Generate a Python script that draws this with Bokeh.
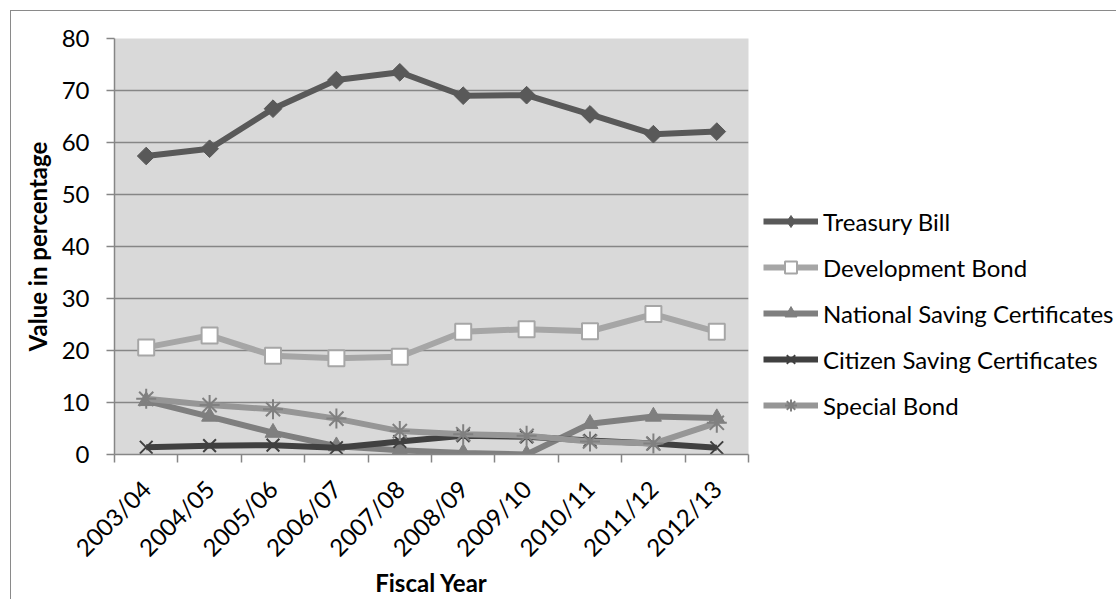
import math

from bokeh.plotting import figure
from bokeh.models import ColumnDataSource, FixedTicker, Legend, LegendItem, Range1d
from bokeh.embed import file_html
from bokeh.resources import INLINE

# Share of domestic debt instruments by fiscal year (percent)
years = ["2003/04", "2004/05", "2005/06", "2006/07", "2007/08",
         "2008/09", "2009/10", "2010/11", "2011/12", "2012/13"]
treasury_bill = [57.4, 58.8, 66.5, 72.0, 73.5, 69.0, 69.1, 65.4, 61.6, 62.1]
development_bond = [20.6, 22.9, 19.0, 18.5, 18.8, 23.6, 24.1, 23.7, 27.0, 23.6]
national_saving = [10.3, 7.3, 4.2, 1.6, 0.8, 0.3, 0.0, 5.9, 7.3, 7.0]
citizen_saving = [1.4, 1.7, 1.8, 1.3, 2.5, 3.6, 3.4, 2.7, 2.1, 1.3]
special_bond = [10.7, 9.5, 8.7, 6.9, 4.5, 3.9, 3.6, 2.5, 2.1, 6.1]
y_ticks = [0, 10, 20, 30, 40, 50, 60, 70, 80]

xpos = list(range(1, len(years) + 1))
src = ColumnDataSource(dict(
    x=xpos, tb=treasury_bill, db=development_bond, ns=national_saving,
    cs=citizen_saving, sb=special_bond,
))

FONT = "Lato"
GRID = "#868686"

p = figure(
    frame_width=634, frame_height=416,
    min_border_left=103, min_border_top=27, min_border_right=10, min_border_bottom=143,
    x_range=Range1d(0.5, len(years) + 0.5), y_range=Range1d(0, 80),
    output_backend="svg", toolbar_location=None,
    background_fill_color="#d9d9d9", border_fill_color="white",
    outline_line_color=None,
)
p.styles = {
    "margin-left": "10px", "margin-top": "10px",
    "border-left": "1px solid #8a8a8a", "border-top": "1px solid #8a8a8a",
}

# grid
p.xgrid.grid_line_color = None
p.ygrid.grid_line_color = GRID
p.ygrid.grid_line_width = 1.5
p.ygrid.ticker = FixedTicker(ticks=y_ticks)

# y axis
ya = p.yaxis[0]
ya.ticker = FixedTicker(ticks=y_ticks)
ya.axis_line_color = GRID
ya.axis_line_width = 1.5
ya.major_tick_line_color = GRID
ya.major_tick_line_width = 1.5
ya.major_tick_out = 8
ya.major_tick_in = 0
ya.minor_tick_line_color = None
ya.major_label_standoff = 17
ya.major_label_text_font = FONT
ya.major_label_text_font_size = "24px"
ya.major_label_text_color = "black"
ya.axis_label = "Value in percentage"
ya.axis_label_text_font = FONT
ya.axis_label_text_font_size = "24px"
ya.axis_label_text_font_style = "bold"
ya.axis_label_text_color = "black"
ya.axis_label_standoff = 7

# x axis: labels at category centres, tick marks at category boundaries
xa = p.xaxis[0]
xa.ticker = FixedTicker(ticks=xpos, minor_ticks=[i + 0.5 for i in range(len(years) + 1)])
xa.major_label_overrides = {x: y for x, y in zip(xpos, years)}
xa.major_label_orientation = math.pi / 4
xa.major_tick_line_color = None
xa.major_tick_out = 0
xa.major_tick_in = 0
xa.minor_tick_line_color = GRID
xa.minor_tick_line_width = 1.5
xa.minor_tick_out = 8
xa.minor_tick_in = 0
xa.axis_line_color = GRID
xa.axis_line_width = 1.5
xa.major_label_standoff = 22
xa.major_label_text_font = FONT
xa.major_label_text_font_size = "24px"
xa.major_label_text_color = "black"
xa.axis_label = "Fiscal Year"
xa.axis_label_text_font = FONT
xa.axis_label_text_font_size = "24px"
xa.axis_label_text_font_style = "bold"
xa.axis_label_text_color = "black"
xa.axis_label_standoff = -7

LW = 6

# Treasury Bill: diamonds (a small diamond glyph underneath serves as the legend swatch)
tb_l = p.line("x", "tb", source=src, line_color="#595959", line_width=LW)
tb_key = p.scatter("x", "tb", source=src, marker="diamond", size=10,
                   fill_color="#595959", line_color="#595959")
tb_m = p.scatter("x", "tb", source=src, marker="square", angle=math.pi / 4, size=12.5,
                 fill_color="#595959", line_color="#595959")

# Development Bond
db_l = p.line("x", "db", source=src, line_color="#a6a6a6", line_width=LW)
db_m = p.scatter("x", "db", source=src, marker="square", size=16,
                 fill_color="white", line_color="#a6a6a6", line_width=2)

# National Saving Certificates
ns_l = p.line("x", "ns", source=src, line_color="#7f7f7f", line_width=LW)
ns_m = p.scatter("x", "ns", source=src, marker="triangle", size=16,
                 fill_color="#7f7f7f", line_color="#7f7f7f")

# Citizen Saving Certificates
cs_l = p.line("x", "cs", source=src, line_color="#404040", line_width=LW)
cs_m = p.scatter("x", "cs", source=src, marker="x", size=18,
                 line_color="#404040", line_width=2)

# Special Bond
sb_l = p.line("x", "sb", source=src, line_color="#969696", line_width=LW)
sb_m = p.scatter("x", "sb", source=src, marker="asterisk", size=20,
                 line_color="#808080", line_width=2)

legend = Legend(
    items=[
        LegendItem(label="Treasury Bill", renderers=[tb_l, tb_key]),
        LegendItem(label="Development Bond", renderers=[db_l, db_m]),
        LegendItem(label="National Saving Certificates", renderers=[ns_l, ns_m]),
        LegendItem(label="Citizen Saving Certificates", renderers=[cs_l, cs_m]),
        LegendItem(label="Special Bond", renderers=[sb_l, sb_m]),
    ],
    location=(15, 34),
    orientation="vertical",
    glyph_width=55, glyph_height=30, label_height=30,
    spacing=16, padding=0, margin=0, label_standoff=5,
    label_text_font=FONT, label_text_font_size="24px", label_text_color="black",
    border_line_color=None, background_fill_alpha=0,
)
p.add_layout(legend, "right")

open("out.html", "w").write(file_html(p, INLINE))
